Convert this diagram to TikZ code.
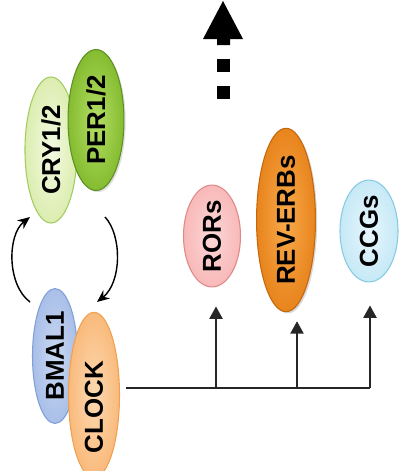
\documentclass[tikz,border=0pt]{standalone}
\usepackage{fontspec}
\setmainfont{Liberation Sans}
\usetikzlibrary{shapes.geometric,arrows.meta,shadows}
\definecolor{cryin}{HTML}{F3FAE2}\definecolor{cryout}{HTML}{DCEDB0}\definecolor{cryd}{HTML}{A2CC62}
\definecolor{perin}{HTML}{B4DE64}\definecolor{perout}{HTML}{84BC30}\definecolor{perd}{HTML}{5F9022}
\definecolor{bmin}{HTML}{CAD8F2}\definecolor{bmout}{HTML}{A9BFE8}\definecolor{bmd}{HTML}{7F9FD6}
\definecolor{clin}{HTML}{FDD8B0}\definecolor{clout}{HTML}{F9BA7C}\definecolor{cld}{HTML}{EFA050}
\definecolor{roin}{HTML}{FDD6D6}\definecolor{roout}{HTML}{F8B9B9}\definecolor{rod}{HTML}{E08888}
\definecolor{rvin}{HTML}{F8AA4C}\definecolor{rvout}{HTML}{E8841C}\definecolor{rvd}{HTML}{C46810}
\definecolor{ccin}{HTML}{E6F6FC}\definecolor{ccout}{HTML}{C6E9F6}\definecolor{ccd}{HTML}{86CBE3}
\begin{document}
\begin{tikzpicture}[x=0.5669pt,y=-0.5669pt,
  prot/.style={ellipse,rotate=90,inner sep=0pt,line width=0.6pt,
    font=\fontsize{14.7}{15}\selectfont\bfseries},
  conn/.style={line width=1.1pt,draw=black!85},
  arr/.style={conn,-{Triangle[length=7pt,width=7.4pt]}},
  carr/.style={line width=0.8pt,-{Stealth[length=7pt,width=6pt]}}]
\useasboundingbox (0,0) rectangle (400,471);
% upper complex
\node[prot,minimum width=82.8pt,minimum height=29.5pt,draw=cryd,inner color=cryin,outer color=cryout] (cry) at (51,150) {CRY1/2};
\node[prot,minimum width=79.9pt,minimum height=31.7pt,draw=perd,inner color=perin,outer color=perout,
  drop shadow={opacity=0.25,shadow xshift=1pt,shadow yshift=-1pt}] (per) at (96,120) {PER1/2};
% lower complex
\node[prot,minimum width=76.5pt,minimum height=25.5pt,draw=bmd,inner color=bmin,outer color=bmout] (bmal) at (55,356) {BMAL1};
\node[prot,minimum width=73.7pt,minimum height=28.9pt,draw=cld,inner color=clin,outer color=clout] (clock) at (94,395) {\raisebox{0pt}{CLOCK}\hspace*{14pt}};
% targets
\node[prot,minimum width=53.9pt,minimum height=32.3pt,draw=rod,inner color=roin,outer color=roout] (rors) at (212,236) {RORs};
\node[prot,minimum width=82.8pt,minimum height=33.4pt,draw=rvd,inner color=rvin,outer color=rvout,
  drop shadow={opacity=0.3,shadow xshift=1pt,shadow yshift=-1pt}] (rev) at (286,220) {REV-ERBs};
\node[prot,minimum width=54.4pt,minimum height=32.9pt,draw=ccd,inner color=ccin,outer color=ccout] (ccgs) at (369,231) {CCGs};
% feedback arcs
\coordinate (la) at (30,302); \coordinate (lb) at (30,217);
\coordinate (ra) at (105,217); \coordinate (rb) at (97,302);
\draw[carr] (la) .. controls (7,285) and (7,235) .. (lb);
\draw[carr] (ra) .. controls (122,235) and (122,282) .. (rb);
% output lines
\coordinate (h0) at (126,388);
\coordinate (j1) at (216,388); \coordinate (j2) at (297,388); \coordinate (j3) at (370,388);
\draw[conn] (h0) -- (j3);
\draw[arr,shorten >=19*0.5669pt] (j1) -- (j1 |- rors.west);
\draw[arr,shorten >=9*0.5669pt] (j2) -- (j2 |- rev.west);
\draw[arr,shorten >=23*0.5669pt] (j3) -- (j3 |- ccgs.west);
% big dashed arrow
\fill (217,59) rectangle (230,72);
\fill (217,86) rectangle (230,99);
\fill (203,39) -- (223,1) -- (243,39) -- (230,39) -- (230,45) -- (217,45) -- (217,39) -- cycle;
\end{tikzpicture}
\end{document}
